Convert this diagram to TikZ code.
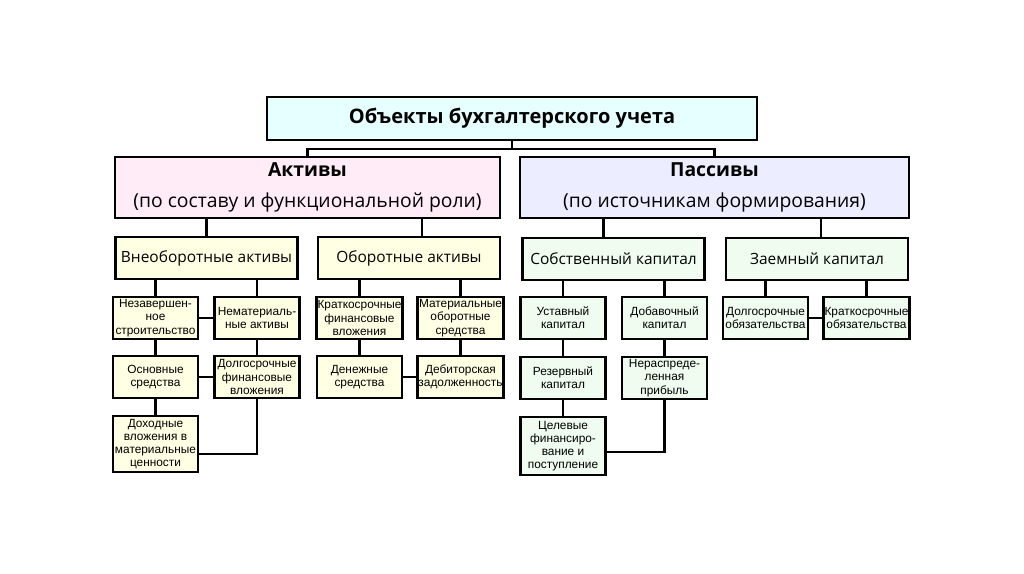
\documentclass[tikz,border=0pt]{standalone}
\usepackage{fontspec}
\setmainfont{Open Sans}
\newfontfamily\smallfnt{Liberation Sans}
\usetikzlibrary{calc}
\definecolor{ObjCyan}{RGB}{230,255,255}
\definecolor{AktPink}{RGB}{255,236,246}
\definecolor{PasLilac}{RGB}{236,238,255}
\definecolor{AktCream}{RGB}{255,255,228}
\definecolor{PasMint}{RGB}{240,252,240}

\begin{document}
\begin{tikzpicture}[x=0.75pt, y=-0.75pt,
	box/.style={draw=black, line width=2.2pt, align=center, inner sep=1pt},
	head/.style={box, minimum height=61*0.75pt, font=\fontsize{14.5}{23}\selectfont},
	grp/.style={box, minimum width=182*0.75pt, minimum height=42*0.75pt, font=\fontsize{11.6}{13}\selectfont},
	leaf/.style={box, minimum width=85*0.75pt, minimum height=42*0.75pt, font=\smallfnt\fontsize{8.9}{9.9}\selectfont},
	link/.style={draw=black, line width=1.6pt}]
	\useasboundingbox (0,0) rectangle (1024,574);
	% verh
	\node[box, fill=ObjCyan, minimum width=490*0.75pt, minimum height=43*0.75pt,
		font=\bfseries\fontsize{15}{18}\selectfont] (obj) at (512,118.5) {Объекты бухгалтерского учета};
	\node[head, fill=AktPink, minimum width=385*0.75pt] (akt) at (307.5,187.5)
		{\textbf{Активы}\\(по составу и функциональной роли)};
	\node[head, fill=PasLilac, minimum width=389*0.75pt] (pas) at (714.5,187.5)
		{\textbf{Пассивы}\\(по источникам формирования)};
	\coordinate (bus) at (512,149);
	\draw[link] (obj.south) -- (bus);
	\draw[link] (akt.north) |- (bus) -| (pas.north);
	% aktivy
	\node[grp, fill=AktCream] (vne) at (206.5,258) {Внеоборотные активы};
	\node[grp, fill=AktCream] (obo) at (409,258) {Оборотные активы};
	\draw[link] (vne.north) -- (vne.north |- akt.south);
	\draw[link] ([xshift=13*0.75pt]obo.north) -- ([xshift=13*0.75pt]obo.north |- akt.south);
	\foreach \n/\x/\y/\t in {nez/155.5/318/{Незавершен-\\ное\\строительство},
		nem/257/318/{Нематериаль-\\ные активы},
		osn/155.5/377/{Основные\\средства},
		dlf/257/377/{Долгосрочные\\финансовые\\вложения},
		krf/359.5/318/{Краткосрочные\\финансовые\\вложения},
		mat/460.5/318/{Материальные\\оборотные\\средства},
		den/359.5/377/{Денежные\\средства},
		deb/460.5/377/{Дебиторская\\задолженность}}
		{\node[leaf, fill=AktCream] (\n) at (\x,\y) {\t};}
	\node[leaf, fill=AktCream, minimum height=56*0.75pt] (doh) at (155.5,444)
		{Доходные\\вложения в\\материальные\\ценности};
	\draw[link] (nez.north) -- (nez.north |- vne.south);
	\draw[link] (nem.north) -- (nem.north |- vne.south);
	\draw[link] (krf.north) -- (krf.north |- obo.south);
	\draw[link] (mat.north) -- (mat.north |- obo.south);
	\draw[link] (nez) -- (nem);
	\draw[link] (osn) -- (dlf);
	\draw[link] (den) -- (deb);
	\draw[link] (nez) -- (osn);
	\draw[link] (osn) -- (doh);
	\draw[link] (nem) -- (dlf);
	\draw[link] (krf) -- (den);
	\draw[link] (mat) -- (deb);
	\draw[link] (dlf.south) |- ($(doh.east)+(0,10)$);
	% passivy
	\node[grp, fill=PasMint] (sob) at (613.5,259) {Собственный капитал};
	\node[grp, fill=PasMint] (zae) at (817,259) {Заемный капитал};
	\draw[link] ([xshift=-10*0.75pt]sob.north) -- ([xshift=-10*0.75pt]sob.north |- pas.south);
	\draw[link] ([xshift=4*0.75pt]zae.north) -- ([xshift=4*0.75pt]zae.north |- pas.south);
	\foreach \n/\x/\y/\t in {ust/563/318/{Уставный\\капитал},
		dob/664.5/318/{Добавочный\\капитал},
		rez/563/378/{Резервный\\капитал},
		ner/664.5/378/{Нераспреде-\\ленная\\прибыль},
		dol/765.5/318/{Долгосрочные\\обязательства},
		kro/866.5/318/{Краткосрочные\\обязательства}}
		{\node[leaf, fill=PasMint] (\n) at (\x,\y) {\t};}
	\node[leaf, fill=PasMint, minimum height=58*0.75pt] (cel) at (563,446)
		{Целевые\\финансиро-\\вание и\\поступление};
	\draw[link] (ust.north) -- (ust.north |- sob.south);
	\draw[link] (dob.north) -- (dob.north |- sob.south);
	\draw[link] (dol.north) -- (dol.north |- zae.south);
	\draw[link] (kro.north) -- (kro.north |- zae.south);
	\draw[link] (dol) -- (kro);
	\draw[link] (ust) -- (rez);
	\draw[link] (rez) -- (cel);
	\draw[link] (dob) -- (ner);
	\draw[link] (ner.south) |- ($(cel.east)+(0,6)$);
\end{tikzpicture}
\end{document}
